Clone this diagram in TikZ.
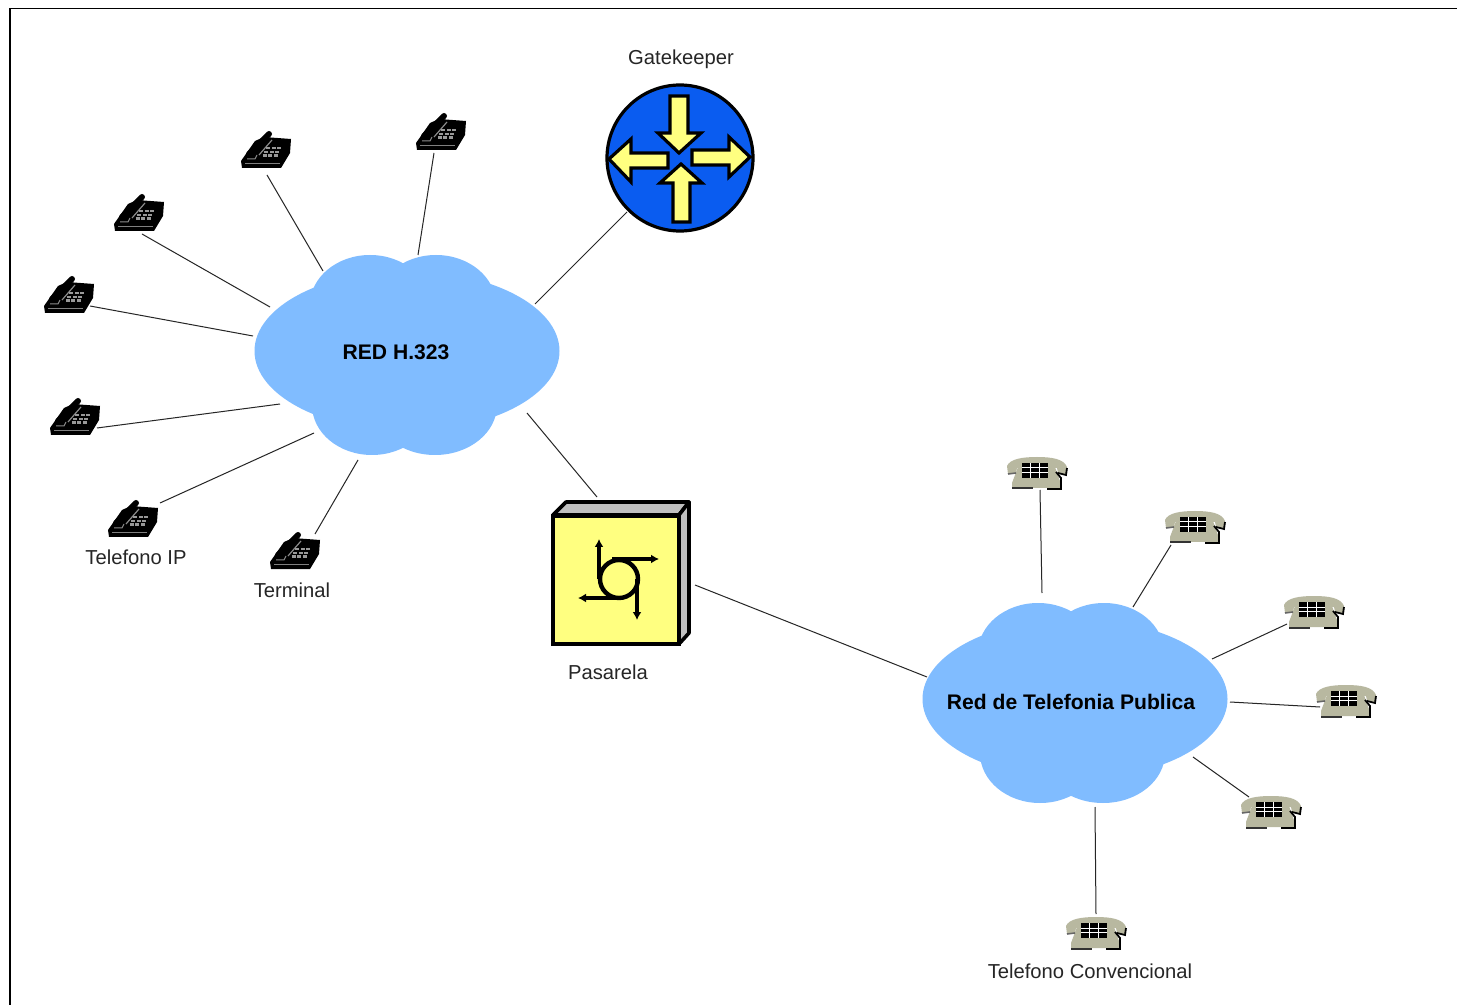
\documentclass[tikz,border=0pt]{standalone}
\usepackage{fontspec}
\setmainfont{Liberation Sans}
\usetikzlibrary{calc,arrows.meta}
\definecolor{cloudblue}{HTML}{80BCFF}
\definecolor{gkblue}{HTML}{0A5CF0}
\definecolor{softyellow}{HTML}{FFFF80}
\definecolor{phonegray}{HTML}{B8B8A0}
\definecolor{lightside}{HTML}{C0C0C0}
\tikzset{
  link/.style={draw=black!85,line width=0.5pt},
  lbl/.style={font=\fontsize{10.1}{12}\selectfont,text=black!85,inner sep=0pt},
  cloudlbl/.style={font=\fontsize{10.55}{12}\selectfont\bfseries,text=black,inner sep=0pt},
  phonebox/.style={inner sep=0pt,minimum width=25pt,minimum height=18pt},
  bigarrow/.style={draw=black,line width=1.6pt,fill=softyellow,line join=miter},
  gw/.style={draw=black,line width=1.8pt,line join=round},
  gwline/.style={draw=black,line width=1.7pt,-{Latex[length=4pt,width=4.5pt]}},
  ipphone/.pic={
    \fill[black,line join=round] (-25,11) -- (-11,-9) -- (-2,-13) -- (25,-11) -- (24,3) -- (15,18) -- (-24,18) -- cycle;
    \draw[black,line width=3pt,line cap=round] (-17,4) -- (3,-16);
    \draw[black!45,line width=0.6pt] (-7,5) -- (6,-10);
    \draw[black!50,line width=0.5pt] (-21,13.5) -- (14,13.5);
    \draw[black!45,line width=0.5pt] (-19,9) -- (-11,9) -- (-9,5);
    \foreach \i in {0,1,2} \foreach \j in {0,1,2}
      \fill[black!40] ({0+5.5*\i-1.6*\j},{-3+3.7*\j}) rectangle ++(4,2.4);
  },
  cphone/.pic={
    \fill[phonegray] (-19,-6) -- (18,-6) -- (23,8) -- (23,15) -- (-25,15) -- (-25,10) -- cycle;
    \fill[phonegray] (-30,-7) .. controls (-27,-14) and (-15,-16) .. (0,-16) .. controls (15,-16) and (27,-14) .. (30,-6) -- (29,2) -- (21,0) -- (20,-5) -- (-20,-5) -- (-21,0) -- (-29,1) -- cycle;
    \draw[black!60,line width=0.8pt] (-29,1) -- (-21,0);
    \draw[black,line width=0.9pt] (21,0) -- (29,2) -- (30,-5);
    \draw[black,line width=0.9pt] (19,-1) -- (24,5) -- (24,16) -- (10,16);
    \draw[black!80,line width=1pt] (-25,15.5) -- (-4,15.5);
    \fill[black] (-15,-10) rectangle (11,5);
    \foreach \a in {-6.8,1.8} \fill[white] (\a,-10) rectangle ++(1,15);
    \foreach \b in {-5.5,-1} \fill[white] (-15,\b) rectangle ++(26,1);
  }
}
\begin{document}
\begin{tikzpicture}[x=0.5pt,y=-0.5pt]
\useasboundingbox (0,0) rectangle (1457,1005);
\fill[white] (0,0) rectangle (1457,1005);
\draw[black,line width=0.8pt] (10,1005) -- (10,8.5) -- (1457,8.5);
% clouds
\foreach \ox/\oy in {0/0,668/348}{
  \begin{scope}[shift={(\ox,\oy)}]
  \fill[cloudblue] (407,351) ellipse [x radius=152.5,y radius=80];
  \fill[cloudblue] (370,305) ellipse [x radius=60,y radius=50];
  \fill[cloudblue] (436,305) ellipse [x radius=60,y radius=50];
  \fill[cloudblue] (372,405) ellipse [x radius=60,y radius=50];
  \fill[cloudblue] (435,405) ellipse [x radius=62,y radius=50];
  \end{scope}
}
\node[cloudlbl] (h323) at (407,355) {\phantom{x}};
\node[cloudlbl] (rtc) at (1075,703) {\phantom{x}};
\node[cloudlbl] (h323t) at (396,352) {RED H.323};
\node[cloudlbl] (rtct) at (1071,702) {Red de Telefonia Publica};
% IP phones
\foreach \n/\px/\py in {ipa/441/132,ipb/266/150,ipc/139/213,ipd/69/295,ipe/75/417,ipf/133/519,ipg/295/551}{
  \node[phonebox] (\n) at (\px,\py) {};
  \pic at (\n) {ipphone};
}
% conventional phones
\foreach \n/\px/\py in {ta/1037/473,tb/1195/527,tc/1314/612,td/1346/701,te/1271/812,tf/1096/933}{
  \node[phonebox] (\n) at (\px,\py) {};
  \pic at (\n) {cphone};
}
% gatekeeper
\node[circle,draw=black,line width=1.6pt,fill=gkblue,minimum size=73pt,inner sep=0pt] (gk) at (680,158) {};
\draw[bigarrow] (670,96) -- (688,96) -- (688,133) -- (701,133) -- (679,153) -- (658,133) -- (670,133) -- cycle;
\draw[bigarrow] (673,222) -- (690,222) -- (690,183) -- (702,183) -- (681,164) -- (660,183) -- (673,183) -- cycle;
\draw[bigarrow] (668,153) -- (668,168) -- (631,168) -- (631,182) -- (609,159) -- (631,139) -- (631,153) -- cycle;
\draw[bigarrow] (692,150) -- (692,165) -- (729,165) -- (729,177) -- (750,157) -- (729,137) -- (729,150) -- cycle;
% gateway
\node[rectangle,draw=black,line width=1.8pt,fill=softyellow,minimum width=63pt,minimum height=64pt,inner sep=0pt] (pas) at (616,580) {};
\draw[gw,fill=lightside] (553,515) -- (566,502) -- (689,502) -- (679,515) -- cycle;
\draw[gw,fill=lightside] (679,515) -- (689,502) -- (689,633) -- (679,644) -- cycle;
\draw[black,line width=2.2pt] (619,579) circle [radius=19];
\draw[gwline] (599,579) -- (599,539);
\draw[gwline] (612,559) -- (659,559);
\draw[gwline] (637,579) -- (637,620);
\draw[gwline] (618,598) -- (578,598);
% labels
\node[lbl] (lgk) at (681,59) {Gatekeeper};
\node[lbl] (lpas) at (608,672) {Pasarela};
\node[lbl] (lip) at (136,557) {Telefono IP};
\node[lbl] (lterm) at (292,590) {Terminal};
\node[lbl] (lconv) at (1090,971) {Telefono Convencional};
% connectors
\draw[link] ($(ipa)+(-7,21)$) -- ($(h323)+(11,-100)$);
\draw[link] ($(ipb)+(1,25)$) -- ($(h323)+(-84,-84)$);
\draw[link] ($(ipc)+(3,21)$) -- ($(h323)+(-137,-48)$);
\draw[link] ($(ipd)+(21,11)$) -- ($(h323)+(-154,-19)$);
\draw[link] ($(ipe)+(22,11)$) -- ($(h323)+(-127,49)$);
\draw[link] ($(ipf)+(27,-16)$) -- ($(h323)+(-93,78)$);
\draw[link] ($(ipg)+(20,-17)$) -- ($(h323)+(-49,105)$);
\draw[link] ($(gk)+(-53,54)$) -- ($(h323)+(128,-51)$);
\draw[link] ($(pas)+(-19,-83)$) -- ($(h323)+(120,58)$);
\draw[link] ($(pas)+(79,5)$) -- ($(rtc)+(-148,-26)$);
\draw[link] ($(ta)+(3,17)$) -- ($(rtc)+(-33,-110)$);
\draw[link] ($(tb)+(-24,18)$) -- ($(rtc)+(58,-96)$);
\draw[link] ($(tc)+(-27,12)$) -- ($(rtc)+(137,-44)$);
\draw[link] ($(td)+(-26,6)$) -- ($(rtc)+(155,-1)$);
\draw[link] ($(te)+(-22,-15)$) -- ($(rtc)+(118,54)$);
\draw[link] ($(tf)+(0,-19)$) -- ($(rtc)+(20,104)$);
\end{tikzpicture}
\end{document}
